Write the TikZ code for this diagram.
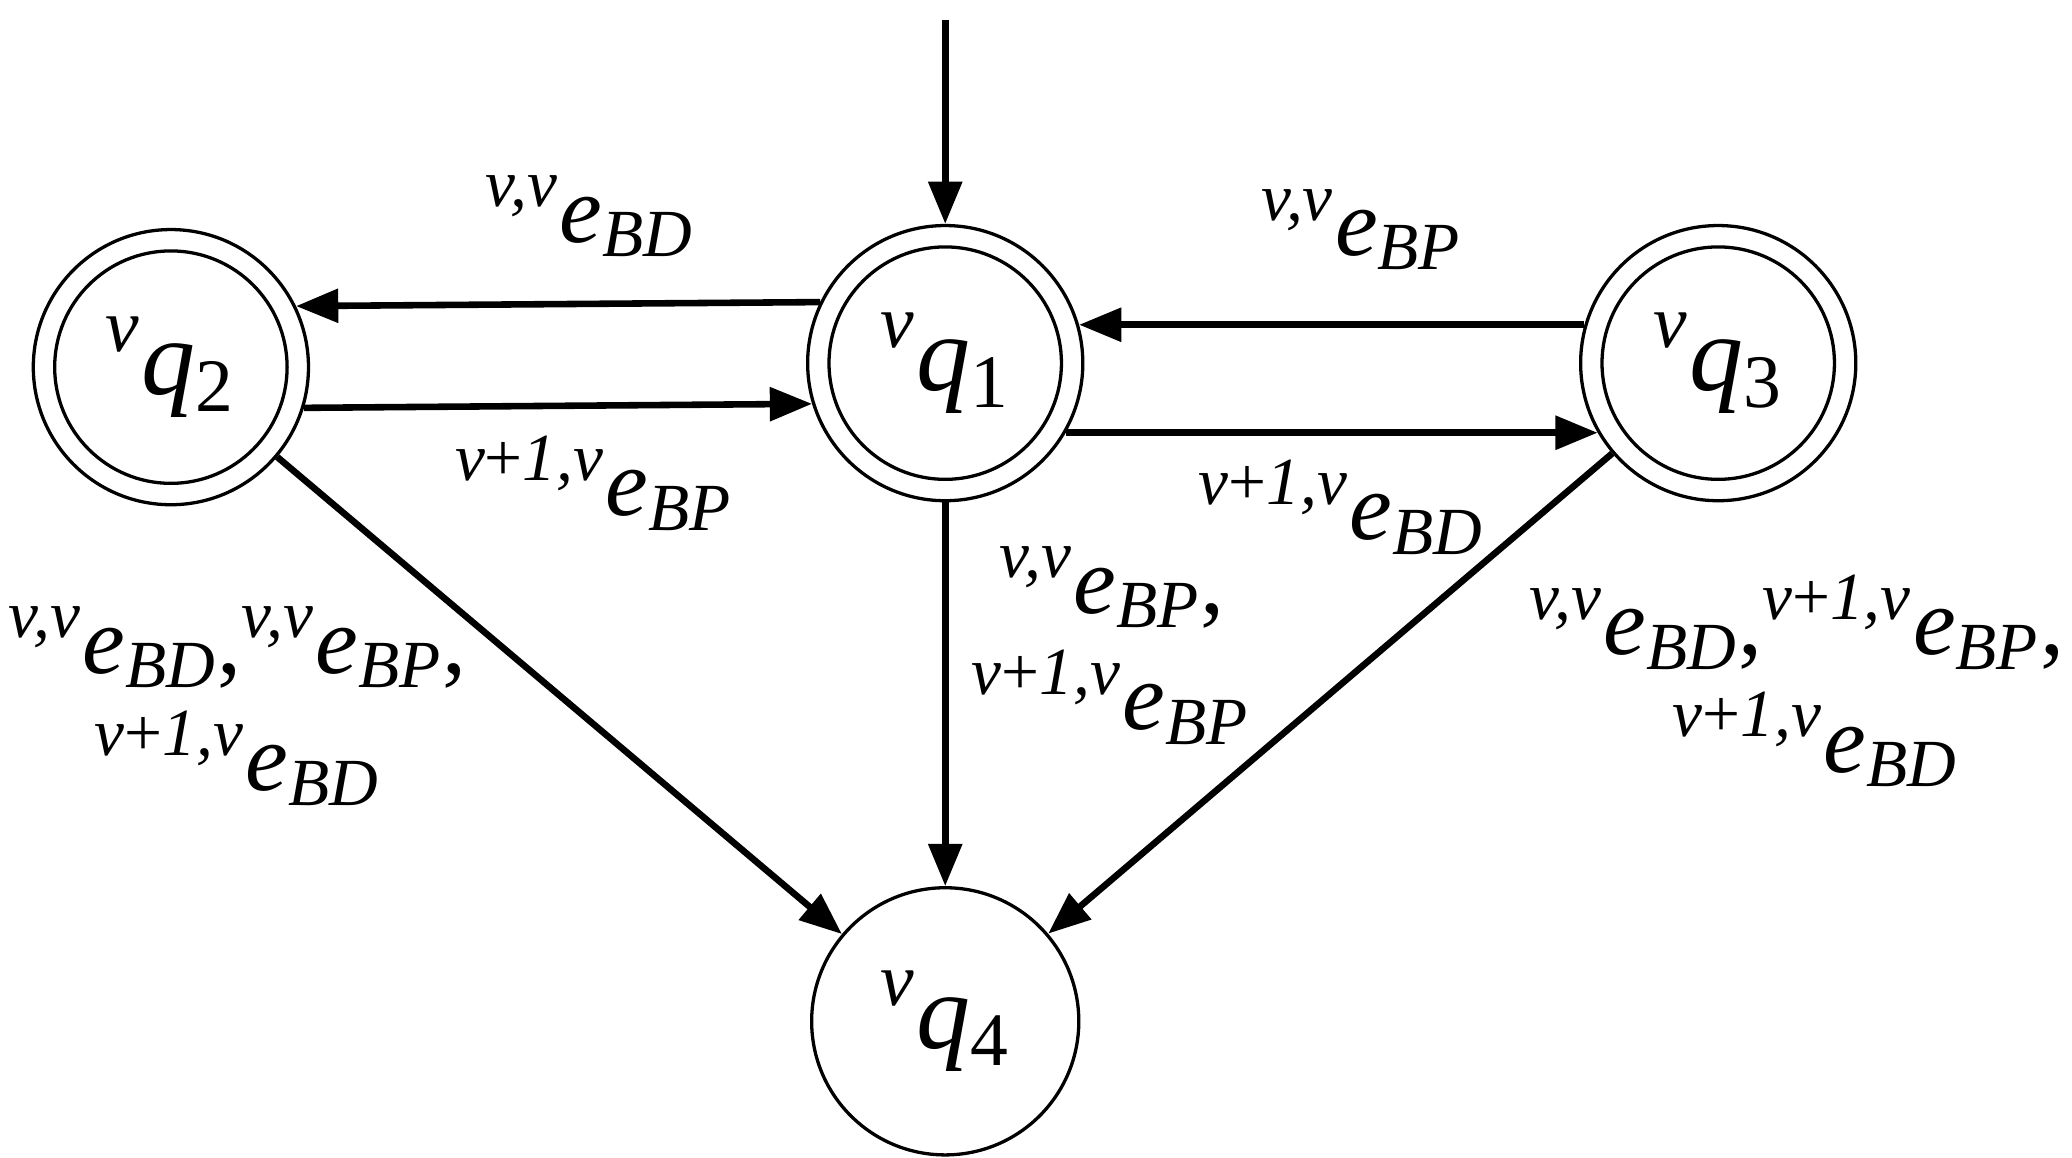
\documentclass[tikz,border=0pt]{standalone}
\usepackage{fontspec}
\setmainfont{Liberation Serif}
\usetikzlibrary{arrows.meta}
\newcommand{\lab}[2]{\textsuperscript{\itshape #1}{\itshape e}\textsubscript{\itshape #2}}
\newcommand{\pl}{{\upshape+}}
\newcommand{\st}[1]{\textsuperscript{\itshape v}{\itshape q}\textsubscript{#1}}
\begin{document}
\begin{tikzpicture}[x=0.01cm,y=-0.01cm,
  st/.style={circle,draw,line width=0.7pt,minimum size=2.06cm,inner sep=0pt,font=\fontsize{23}{27}\selectfont},
  inn/.style={circle,draw,line width=0.7pt,minimum size=1.74cm,inner sep=0pt},
  ed/.style={line width=1.4pt,-{Triangle[length=9pt,width=7pt]}},
  lb/.style={font=\fontsize{20.5}{25}\selectfont,inner sep=0pt}]
\useasboundingbox (0,0) rectangle (1552,867);
\node[st] (q1) at (708,272) {\st{1}};
\node[st] (q2) at (128,275) {\st{2}};
\node[st] (q3) at (1287,272) {\st{3}};
\node[st,minimum size=2.0cm] (q4) at (708,765) {\st{4}};
\node[inn] (q1i) at (708,272) {};
\node[inn] (q2i) at (128,275) {};
\node[inn] (q3i) at (1287,272) {};
\coordinate (s) at (708,15);
\draw[ed] (s) -- (q1);
\draw[ed] (q1.154) -- (q2.26);
\draw[ed] (q2.-17) -- (q1.197);
\draw[ed] (q3.164) -- (q1.16);
\draw[ed] (q1.-30) -- (q3.210);
\draw[ed] (q1) -- (q4);
\draw[ed] (q2) -- (q4);
\draw[ed] (q3) -- (q4);
\node[lb] (l1) at (442,162) {\lab{v,v}{BD}};
\node[lb] (l2) at (445,362) {\lab{v\pl1,v}{BP}};
\node[lb] (l3) at (1020,172) {\lab{v,v}{BP}};
\node[lb] (l4) at (1005,380) {\lab{v\pl1,v}{BD}};
\node[lb] (l5) at (833,440) {\lab{v,v}{BP},};
\node[lb] (l6) at (832,522) {\lab{v\pl1,v}{BP}};
\node[lb] (l7) at (178,485) {\lab{v,v}{BD},\lab{v,v}{BP},};
\node[lb] (l8) at (178,568) {\lab{v\pl1,v}{BD}};
\node[lb] (l9) at (1346,466) {\lab{v,v}{BD},\lab{v\pl1,v}{BP},};
\node[lb] (l10) at (1360,554) {\lab{v\pl1,v}{BD}};
\end{tikzpicture}
\end{document}
